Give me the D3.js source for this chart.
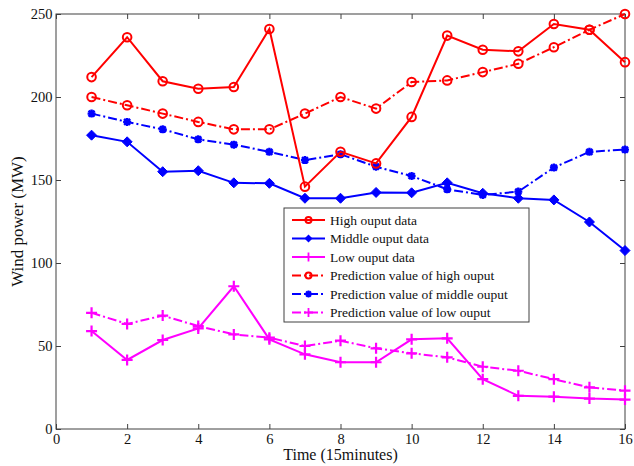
<!DOCTYPE html>
<html><head><meta charset="utf-8">
<script src="https://cdn.jsdelivr.net/npm/d3@7"></script>
<style>body{margin:0;background:#fff}svg{display:block}text{font-family:"Liberation Serif","Times New Roman",serif}</style>
</head><body><svg id="c" width="634" height="466"></svg>
<script>
const times = d3.range(1, 17);
const highData = [212, 236, 209.5, 205, 206, 241, 146, 167, 160, 188, 237, 228.5, 227.5, 244, 240.5, 221];
const middleData = [177, 173, 155, 155.6, 148.3, 148, 139, 139, 142.5, 142.3, 148.3, 142, 139, 138, 124.7, 107.5];
const lowData = [59, 41.6, 53.6, 60.6, 86, 54, 45, 40.2, 40.2, 54, 54.6, 30, 20, 19.5, 18.3, 17.7];
const predHigh = [200, 195, 190, 185, 180.5, 180.5, 190, 200, 193, 209, 210, 215, 220, 230, 240.5, 250];
const predMiddle = [190, 185, 180.5, 174.5, 171.3, 167, 162, 165.5, 158, 152.4, 144.4, 141, 143, 157.5, 167, 168.3];
const predLow = [70, 63.3, 68.3, 62, 57, 55, 50, 53.2, 48.6, 45.6, 43.2, 37.5, 35.1, 30, 25.1, 23.1];
const xTicks = [0, 2, 4, 6, 8, 10, 12, 14, 16];
const yTicks = [0, 50, 100, 150, 200, 250];
const seriesNames = ["High ouput data", "Middle ouput data", "Low ouput data",
  "Prediction value of high ouput", "Prediction value of middle ouput", "Prediction value of low ouput"];

const series = [
  {name: seriesNames[0], values: highData, color: "#ff0000", dash: null, marker: "circle"},
  {name: seriesNames[1], values: middleData, color: "#0000ff", dash: null, marker: "diamond"},
  {name: seriesNames[2], values: lowData, color: "#ff00ff", dash: null, marker: "plus"},
  {name: seriesNames[3], values: predHigh, color: "#ff0000", dash: "9,3,2,3", marker: "circle"},
  {name: seriesNames[4], values: predMiddle, color: "#0000ff", dash: "9,3,2,3", marker: "star"},
  {name: seriesNames[5], values: predLow, color: "#ff00ff", dash: "9,3,2,3", marker: "plus"}
];

const svg = d3.select("#c");
const L = 56, R = 625, T = 14, B = 429;
const x = d3.scaleLinear().domain([0, 16]).range([L, R]);
const y = d3.scaleLinear().domain([0, 250]).range([B, T]);

svg.append("rect").attr("x", L).attr("y", T).attr("width", R - L).attr("height", B - T)
  .attr("fill", "none").attr("stroke", "#404040").attr("stroke-width", 1);

const gx = svg.append("g").attr("transform", `translate(0,${B})`)
  .call(d3.axisBottom(x).tickValues(xTicks).tickSizeInner(-5).tickSizeOuter(0).tickPadding(5));
const gxt = svg.append("g").attr("transform", `translate(0,${T})`)
  .call(d3.axisTop(x).tickValues(xTicks).tickSizeInner(-5).tickSizeOuter(0).tickFormat(""));
const gy = svg.append("g").attr("transform", `translate(${L},0)`)
  .call(d3.axisLeft(y).tickValues(yTicks).tickSizeInner(-5).tickSizeOuter(0).tickPadding(3.5));
const gyr = svg.append("g").attr("transform", `translate(${R},0)`)
  .call(d3.axisRight(y).tickValues(yTicks).tickSizeInner(-5).tickSizeOuter(0).tickFormat(""));
[gx, gxt, gy, gyr].forEach(g => {
  g.select(".domain").remove();
  g.selectAll("line").attr("stroke", "#404040");
  g.selectAll("text").attr("font-size", 14.5).attr("fill", "#111")
    .style("font-family", '"Liberation Serif","Times New Roman",serif');
});
gy.selectAll("text").attr("dy", "0.32em");

svg.append("text").attr("x", (L + R) / 2).attr("y", 460).attr("text-anchor", "middle")
  .attr("font-size", 16).attr("fill", "#111").text("Time (15minutes)");
svg.append("text").attr("transform", `translate(23,${(T + B) / 2}) rotate(-90)`)
  .attr("text-anchor", "middle").attr("font-size", 17).attr("fill", "#111").text("Wind power (MW)");

function drawMarker(g, type, color, cx, cy) {
  if (type === "circle") {
    g.append("circle").attr("cx", cx).attr("cy", cy).attr("r", 4.3)
      .attr("fill", "none").attr("stroke", color).attr("stroke-width", 2);
  } else if (type === "diamond") {
    const s = 5;
    g.append("path").attr("d", `M${cx},${cy - s}L${cx + s},${cy}L${cx},${cy + s}L${cx - s},${cy}Z`)
      .attr("fill", color).attr("stroke", color).attr("stroke-width", 1);
  } else if (type === "plus") {
    const s = 5.5;
    g.append("path").attr("d", `M${cx - s},${cy}H${cx + s}M${cx},${cy - s}V${cy + s}`)
      .attr("stroke", color).attr("stroke-width", 2.2).attr("fill", "none");
  } else if (type === "star") {
    const s = 4;
    g.append("path").attr("d", `M${cx - s},${cy}H${cx + s}M${cx},${cy - s}V${cy + s}M${cx - 3},${cy - 3}L${cx + 3},${cy + 3}M${cx - 3},${cy + 3}L${cx + 3},${cy - 3}`)
      .attr("stroke", color).attr("stroke-width", 2.4).attr("fill", "none");
  }
}

const line = d3.line().x((d, i) => x(times[i])).y(d => y(d));
const drawOrder = [3, 4, 5, 0, 1, 2];
drawOrder.forEach(k => {
  const s = series[k];
  const g = svg.append("g");
  g.append("path").datum(s.values).attr("d", line).attr("fill", "none")
    .attr("stroke", s.color).attr("stroke-width", 2).attr("stroke-dasharray", s.dash);
  s.values.forEach((v, i) => drawMarker(g, s.marker, s.color, x(times[i]), y(v)));
});

const lx = 284, ly = 208, lw = 245, lh = 114;
const lg = svg.append("g");
lg.append("rect").attr("x", lx).attr("y", ly).attr("width", lw).attr("height", lh)
  .attr("fill", "#fff").attr("stroke", "#404040").attr("stroke-width", 1);
series.forEach((s, i) => {
  const cy = 220 + i * 18.5;
  lg.append("line").attr("x1", 292).attr("x2", 325).attr("y1", cy).attr("y2", cy)
    .attr("stroke", s.color).attr("stroke-width", 2).attr("stroke-dasharray", s.dash);
  const mg = lg.append("g");
  if (s.marker === "circle") {
    mg.append("circle").attr("cx", 308.5).attr("cy", cy).attr("r", 3)
      .attr("fill", "none").attr("stroke", s.color).attr("stroke-width", 2);
  } else if (s.marker === "diamond") {
    mg.append("path").attr("d", `M308.5,${cy - 4}L312.5,${cy}L308.5,${cy + 4}L304.5,${cy}Z`).attr("fill", s.color);
  } else if (s.marker === "plus") {
    mg.append("path").attr("d", `M304,${cy}H313M308.5,${cy - 4.5}V${cy + 4.5}`).attr("stroke", s.color).attr("stroke-width", 1.8);
  } else {
    mg.append("path").attr("d", `M305,${cy}H312M308.5,${cy - 3.5}V${cy + 3.5}M306,${cy - 2.5}L311,${cy + 2.5}M306,${cy + 2.5}L311,${cy - 2.5}`).attr("stroke", s.color).attr("stroke-width", 2);
  }
  lg.append("text").attr("x", 330).attr("y", cy).attr("dy", "0.35em")
    .attr("font-size", 13.5).attr("fill", "#111").text(s.name);
});
</script></body></html>
